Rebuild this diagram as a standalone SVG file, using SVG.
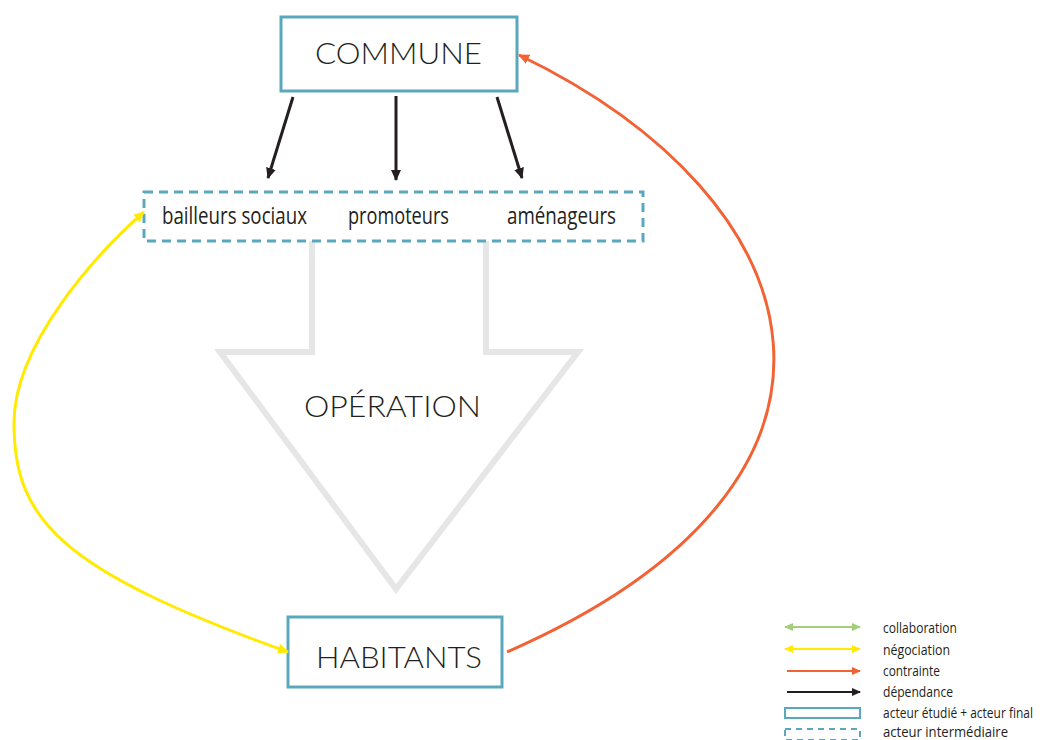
<svg xmlns="http://www.w3.org/2000/svg" width="1040" height="740" viewBox="0 0 1040 740">
  <style>
    .main { font-family: Lato, "Liberation Sans", sans-serif; font-weight: 300; font-size: 30px; fill: #231f20; }
    .sub { font-family: "Open Sans", "Liberation Sans", sans-serif; font-size: 23px; fill: #231f20; }
    .leg { font-family: "Open Sans", "Liberation Sans", sans-serif; font-size: 15px; fill: #231f20; }
    .actor { fill: #ffffff; stroke: #5aa8bd; stroke-width: 3; }
    .inter { fill: #ffffff; stroke: #5aa8bd; stroke-width: 3; stroke-dasharray: 9 6; }
    .dep { fill: none; stroke: #231f20; stroke-width: 3; }
    .neg { fill: none; stroke: #ffea00; stroke-width: 3; }
    .con { fill: none; stroke: #f26234; stroke-width: 3; }
    .col { fill: none; stroke: #a3cf7a; stroke-width: 2; }
  </style>
  <defs>
    <marker id="mDep" markerUnits="userSpaceOnUse" markerWidth="12" markerHeight="12" viewBox="0 0 12 12" refX="10" refY="6" orient="auto">
      <path d="M0,1 L11,6 L0,11 Z" fill="#231f20"/>
    </marker>
    <marker id="mNeg" markerUnits="userSpaceOnUse" markerWidth="12" markerHeight="12" viewBox="0 0 12 12" refX="10" refY="6" orient="auto-start-reverse">
      <path d="M0,1 L11,6 L0,11 Z" fill="#ffea00"/>
    </marker>
    <marker id="mCon" markerUnits="userSpaceOnUse" markerWidth="12" markerHeight="12" viewBox="0 0 12 12" refX="10" refY="6" orient="auto">
      <path d="M0,1 L11,6 L0,11 Z" fill="#f26234"/>
    </marker>
    <marker id="mCol" markerUnits="userSpaceOnUse" markerWidth="10" markerHeight="10" viewBox="0 0 10 10" refX="8" refY="5" orient="auto-start-reverse">
      <path d="M0,1 L9,5 L0,9 Z" fill="#a3cf7a"/>
    </marker>
    <marker id="mNegS" markerUnits="userSpaceOnUse" markerWidth="10" markerHeight="10" viewBox="0 0 10 10" refX="8" refY="5" orient="auto-start-reverse">
      <path d="M0,1 L9,5 L0,9 Z" fill="#ffea00"/>
    </marker>
    <marker id="mConS" markerUnits="userSpaceOnUse" markerWidth="10" markerHeight="10" viewBox="0 0 10 10" refX="8" refY="5" orient="auto">
      <path d="M0,1 L9,5 L0,9 Z" fill="#f26234"/>
    </marker>
    <marker id="mDepS" markerUnits="userSpaceOnUse" markerWidth="10" markerHeight="10" viewBox="0 0 10 10" refX="8" refY="5" orient="auto">
      <path d="M0,1 L9,5 L0,9 Z" fill="#231f20"/>
    </marker>
  </defs>

  <rect width="1040" height="740" fill="#ffffff"/>

  <!-- operation flow: big hollow arrow -->
  <g id="operation">
    <polyline points="312,241 312,352 220,352 396,589 578,352 486,352 486,241" fill="none" stroke="#e6e6e6" stroke-width="6"/>
    <text class="main" x="304" y="417" textLength="177" lengthAdjust="spacingAndGlyphs">OPÉRATION</text>
  </g>

  <g id="commune">
    <rect class="actor" x="281" y="17" width="236" height="74"/>
    <text class="main" x="315" y="64" textLength="167" lengthAdjust="spacingAndGlyphs">COMMUNE</text>
  </g>

  <g id="intermediaires">
    <rect class="inter" x="144" y="192" width="499" height="49"/>
    <text class="sub" x="162" y="224" textLength="145" lengthAdjust="spacingAndGlyphs">bailleurs sociaux</text>
    <text class="sub" x="348" y="224" textLength="101" lengthAdjust="spacingAndGlyphs">promoteurs</text>
    <text class="sub" x="507" y="224" textLength="109" lengthAdjust="spacingAndGlyphs">aménageurs</text>
  </g>

  <g id="habitants">
    <rect class="actor" x="288" y="617" width="214" height="70"/>
    <text class="main" x="316" y="668" textLength="166" lengthAdjust="spacingAndGlyphs">HABITANTS</text>
  </g>

  <!-- connectors -->
  <g id="connectors">
    <line class="dep" x1="293" y1="97" x2="268" y2="178" marker-end="url(#mDep)"/>
    <line class="dep" x1="396" y1="96" x2="396" y2="180" marker-end="url(#mDep)"/>
    <line class="dep" x1="497" y1="97" x2="522" y2="178" marker-end="url(#mDep)"/>
    <path class="neg" d="M144,212 C95,255 14,345 14,423 C14,520 60,570 288,652" marker-start="url(#mNeg)" marker-end="url(#mNeg)"/>
    <path class="con" d="M507,652 C900,480 820,200 519,55" marker-end="url(#mCon)"/>
  </g>

  <!-- legend -->
  <g id="legend">
    <line class="col" x1="785" y1="627" x2="860" y2="627" marker-start="url(#mCol)" marker-end="url(#mCol)"/>
    <line x1="785" y1="649" x2="860" y2="649" stroke="#ffea00" stroke-width="2" marker-start="url(#mNegS)" marker-end="url(#mNegS)"/>
    <line x1="787" y1="671" x2="860" y2="671" stroke="#f26234" stroke-width="2" marker-end="url(#mConS)"/>
    <line x1="787" y1="692" x2="860" y2="692" stroke="#231f20" stroke-width="2" marker-end="url(#mDepS)"/>
    <rect x="785" y="708" width="75" height="10" fill="#ffffff" stroke="#5aa8bd" stroke-width="2"/>
    <rect x="785" y="729" width="75" height="11" fill="#ffffff" stroke="#5aa8bd" stroke-width="2" stroke-dasharray="6 5"/>
    <text class="leg" x="883" y="633" textLength="74" lengthAdjust="spacingAndGlyphs">collaboration</text>
    <text class="leg" x="883" y="655" textLength="67" lengthAdjust="spacingAndGlyphs">négociation</text>
    <text class="leg" x="883" y="676" textLength="57" lengthAdjust="spacingAndGlyphs">contrainte</text>
    <text class="leg" x="883" y="697" textLength="70" lengthAdjust="spacingAndGlyphs">dépendance</text>
    <text class="leg" x="883" y="718" textLength="150" lengthAdjust="spacingAndGlyphs">acteur étudié + acteur final</text>
    <text class="leg" x="883" y="737" textLength="125" lengthAdjust="spacingAndGlyphs">acteur intermédiaire</text>
  </g>
</svg>
